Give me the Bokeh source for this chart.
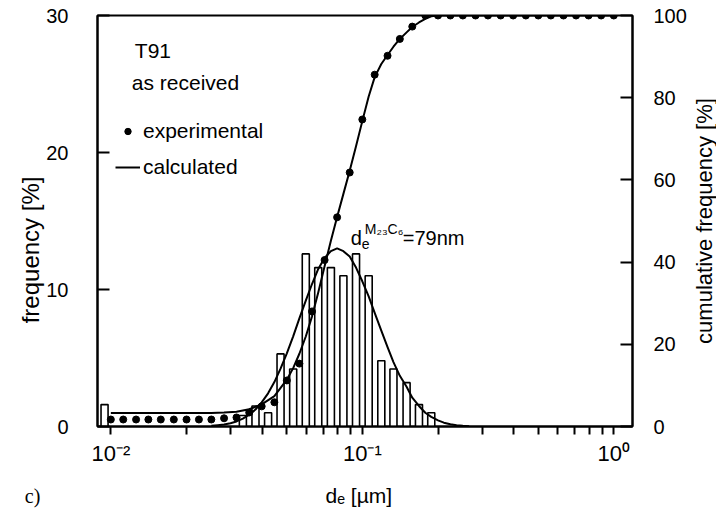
import math
from bokeh.plotting import figure
from bokeh.models import (Range1d, LinearAxis, FixedTicker, CustomJSTickFormatter,
                          Label, Legend, LegendItem)
from bokeh.embed import file_html
from bokeh.resources import INLINE

# ---------------- data ----------------
# histogram: bin centres (µm) and frequency (%)
bin_centers_um = [0.00944, 0.0335, 0.0376, 0.0422, 0.0473, 0.0531, 0.0596, 0.0668,
                  0.0750, 0.0841, 0.0944, 0.106, 0.119, 0.133, 0.150, 0.168, 0.188]
bin_freq_pct = [1.6, 0.8, 1.5, 1.0, 5.3, 4.2, 12.6, 11.6,
                11.6, 11.0, 12.6, 11.0, 4.8, 4.2, 3.2, 1.6, 1.0]

# experimental cumulative frequency (%)
exp_d_um = [0.0100, 0.0112, 0.0126, 0.0141, 0.0158, 0.0178, 0.0200, 0.0224, 0.0251,
            0.0282, 0.0316, 0.0355, 0.0398, 0.0447, 0.0501, 0.0562, 0.0631, 0.0708,
            0.0794, 0.0891, 0.100, 0.112, 0.126, 0.141, 0.158, 0.178, 0.200, 0.224,
            0.251, 0.282, 0.316, 0.355, 0.398, 0.447, 0.501, 0.562, 0.631, 0.708,
            0.794, 0.891, 1.00]
exp_cum_pct = [1.7, 1.7, 1.7, 1.7, 1.7, 1.7, 1.7, 1.7, 1.7,
               2.0, 2.2, 3.4, 4.9, 5.9, 11.2, 15.3, 28.0, 40.5,
               50.9, 61.8, 74.7, 85.6, 90.2, 94.3, 97.3, 100, 100, 100,
               100, 100, 100, 100, 100, 100, 100, 100, 100, 100,
               100, 100, 100]

# calculated frequency distribution (%)
calc_freq_d_um = [0.0251, 0.0266, 0.0282, 0.0299, 0.0316, 0.0335, 0.0355, 0.0376,
                  0.0398, 0.0422, 0.0447, 0.0473, 0.0501, 0.0531, 0.0562, 0.0596,
                  0.0631, 0.0668, 0.0708, 0.0750, 0.0794, 0.0841, 0.0891, 0.0944,
                  0.100, 0.106, 0.112, 0.119, 0.126, 0.133, 0.141, 0.150,
                  0.158, 0.168, 0.178, 0.188, 0.200, 0.211, 0.224, 0.237,
                  0.251, 0.266]
calc_freq_pct = [0.05, 0.09, 0.14, 0.24, 0.37, 0.57, 0.86, 1.24,
                 1.76, 2.42, 3.24, 4.22, 5.34, 6.58, 7.89, 9.19,
                 10.4, 11.5, 12.3, 12.8, 13.0, 12.8, 12.4, 11.6,
                 10.6, 9.5, 8.3, 7.0, 5.8, 4.7, 3.7, 2.9,
                 2.1, 1.5, 1.0, 0.7, 0.45, 0.28, 0.16, 0.09,
                 0.05, 0.02]

# calculated cumulative frequency (%)
calc_cum_d_um = [0.0100, 0.0251, 0.0282, 0.0316, 0.0355, 0.0398, 0.0447, 0.0501,
                 0.0531, 0.0562, 0.0596, 0.0631, 0.0668, 0.0708, 0.0750, 0.0794,
                 0.0841, 0.0891, 0.0944, 0.100, 0.106, 0.112, 0.119, 0.126,
                 0.133, 0.141, 0.150, 0.158, 0.168, 0.178, 0.188, 0.200, 1.00]
calc_cum_pct = [3.3, 3.3, 3.4, 3.6, 4.2, 5.4, 7.4, 11.4,
                14.2, 17.7, 21.9, 26.8, 32.6, 39.0, 45.2, 51.0,
                56.6, 62.2, 68.2, 74.3, 80.3, 85.0, 88.2, 90.4,
                92.4, 94.3, 95.9, 97.2, 98.3, 99.2, 99.8, 100, 100]

x_tick_values = [0.01, 0.1, 1]
x_tick_labels = ["10\u207b\u00b2", "10\u207b\u00b9", "10\u2070"]
x_minor_ticks = [0.02, 0.03, 0.04, 0.05, 0.06, 0.07, 0.08, 0.09,
                 0.2, 0.3, 0.4, 0.5, 0.6, 0.7, 0.8, 0.9]
left_ticks = [0, 10, 20, 30]
right_ticks = [0, 20, 40, 60, 80, 100]

# ---------------- figure ----------------
FONT = "Liberation Sans"
X0, X1 = 0.00885, 1.187

p = figure(width=716, height=513, x_axis_type="log",
           x_range=Range1d(X0, X1), y_range=Range1d(0, 30),
           min_border_left=97, min_border_right=84, min_border_top=15,
           min_border_bottom=86, output_backend="svg", toolbar_location=None)
p.extra_y_ranges = {"cum": Range1d(0, 100)}
p.grid.visible = False
p.outline_line_color = "black"
p.outline_line_width = 2
p.background_fill_color = "white"
p.border_fill_color = "white"

# bottom axis
xa = p.xaxis[0]
xa.ticker = FixedTicker(ticks=x_tick_values, minor_ticks=x_minor_ticks)
xa.formatter = CustomJSTickFormatter(args=dict(vals=x_tick_values, labs=x_tick_labels), code="""
for (let i = 0; i < vals.length; i++) {
  if (Math.abs(Math.log10(tick) - Math.log10(vals[i])) < 1e-6) return labs[i];
}
return "";
""")
xa.major_tick_in = 0
xa.major_tick_out = 8
xa.minor_tick_in = 0
xa.minor_tick_out = 8
xa.major_label_standoff = 6

# left axis (its title is a rotated label in the left side panel)
ya = p.yaxis[0]
ya.ticker = FixedTicker(ticks=left_ticks)
ya.major_tick_in = 12
ya.major_tick_out = 0
ya.minor_tick_in = 0
ya.minor_tick_out = 0
ya.major_label_standoff = 29

# right axis (its title is a rotated label in the right side panel)
ra = LinearAxis(y_range_name="cum", ticker=FixedTicker(ticks=right_ticks))
ra.major_tick_in = 12
ra.major_tick_out = 0
ra.minor_tick_in = 0
ra.minor_tick_out = 0
ra.major_label_standoff = 21

for ax in [xa, ya, ra]:
    ax.axis_line_color = "black"
    ax.axis_line_width = 2
    ax.major_tick_line_color = "black"
    ax.major_tick_line_width = 2
    ax.minor_tick_line_color = "black"
    ax.minor_tick_line_width = 2
    ax.major_label_text_font = FONT
    ax.major_label_text_font_size = "20px"
    ax.major_label_text_color = "black"

xa.major_label_text_font_size = "22px"
p.add_layout(ra, "right")

# ---------------- glyphs ----------------
half = 10 ** 0.014
bars_left = [c / half for c in bin_centers_um]
bars_right = [c * half for c in bin_centers_um]
p.quad(left=bars_left, right=bars_right, bottom=0, top=bin_freq_pct,
       fill_color="white", line_color="black", line_width=1.6)

bell = p.line(calc_freq_d_um, calc_freq_pct, line_color="black", line_width=2,
              line_join="round")
cum_line = p.line(calc_cum_d_um, calc_cum_pct, y_range_name="cum",
                  line_color="black", line_width=2, line_join="round")
dots = p.scatter(exp_d_um, exp_cum_pct, y_range_name="cum", marker="circle",
                 size=7, fill_color="black", line_color="black")

legend = Legend(items=[LegendItem(label="experimental", renderers=[dots]),
                       LegendItem(label="calculated", renderers=[cum_line])],
                location=(18, 247), orientation="vertical", padding=0, margin=0,
                spacing=12, glyph_width=25, glyph_height=16, label_height=16,
                label_standoff=3, label_text_font=FONT, label_text_font_size="21px",
                label_text_color="black", border_line_alpha=0,
                background_fill_alpha=0)
p.add_layout(legend)

# ---------------- texts ----------------
def sx(px):
    return 10 ** (-2 + (px - 110) / 251.5)

def sy(py):
    return (427 - py) / 13.733

def make_label(text, px, py, size, font=FONT, baseline="alphabetic", align="left",
               angle=0.0):
    return Label(x=sx(px), y=sy(py), text=text, text_font=font,
                 text_font_size=size, text_color="black",
                 text_baseline=baseline, text_align=align, angle=angle)

for lbl in [make_label("T91", 134, 50, "21px"),
            make_label("as received", 131, 82, "21px"),
            make_label("d", 350, 238, "20px"),
            make_label("e", 361, 244, "14px"),
            make_label("M\u2082\u2083C\u2086", 364, 229, "14px"),
            make_label("=79nm", 402, 238, "20px")]:
    p.add_layout(lbl)

# texts outside the frame live in side panels (not clipped there)
p.add_layout(make_label("d\u2091 [\u00b5m]", 358, 496, "21px", align="center"), "below")
p.add_layout(make_label("c)", 24, 497, "20px", font="Liberation Serif"), "below")
p.add_layout(make_label("frequency [%]", 30, 250, "24px",
                        baseline="middle", align="center", angle=math.pi / 2), "left")
p.add_layout(make_label("cumulative frequency [%]", 704, 221, "22px",
                        baseline="middle", align="center", angle=math.pi / 2), "right")

open("out.html", "w").write(file_html(p, INLINE))
